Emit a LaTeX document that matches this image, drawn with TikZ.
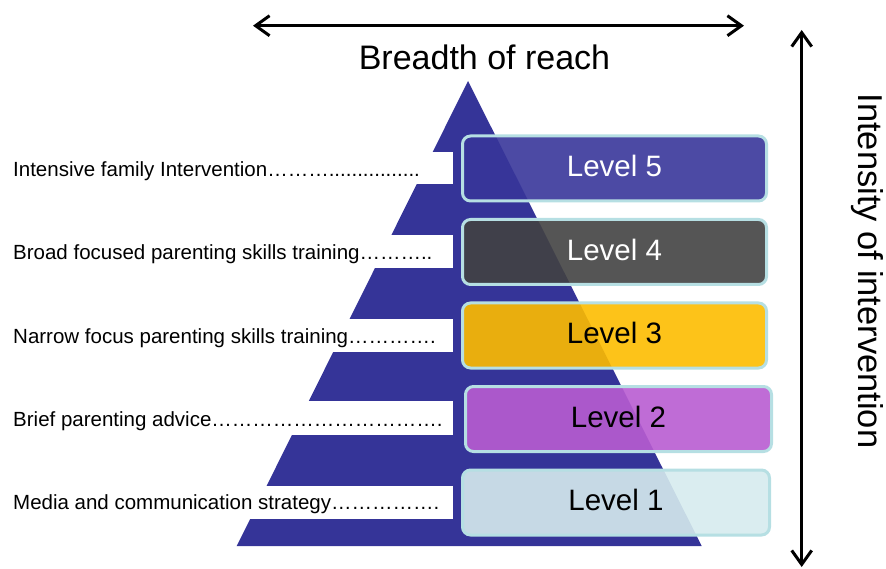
\documentclass[tikz,border=0pt]{standalone}
\usepackage{fontspec}
\setmainfont{Liberation Sans}
\usetikzlibrary{arrows.meta}

\definecolor{pyramidblue}{RGB}{53,52,152}
\definecolor{boxedge}{RGB}{182,223,227}
\definecolor{levelfive}{RGB}{56,54,154}
\definecolor{levelfour}{RGB}{66,66,66}
\definecolor{levelthree}{RGB}{253,188,0}
\definecolor{leveltwo}{RGB}{184,92,209}
\definecolor{levelone}{RGB}{214,235,238}

\tikzset{
  levelbox/.style={draw=boxedge, line width=3pt, rounded corners=8pt, fill opacity=0.9, text opacity=1,
    minimum width=304pt, minimum height=65pt, inner sep=0pt, text height=21.5pt, text depth=5pt,
    font=\fontsize{29.5}{32}\selectfont},
  sidelabel/.style={anchor=base west, inner sep=0pt, font=\fontsize{20.5}{24}\selectfont},
  bigarrow/.style={line width=3pt, {Straight Barb[length=14pt,width=20pt]}-{Straight Barb[length=14pt,width=20pt]}},
}

\begin{document}
\begin{tikzpicture}[x=1pt,y=-1pt]
        \useasboundingbox (0,0) rectangle (886,569);

        %Pyramid
        \fill [pyramidblue] (468,81) -- (701.7,546) -- (236.7,546) -- cycle;

        %Gaps
        \fill [white] (0,152) rectangle (452.5,184.5);
        \fill [white] (0,235) rectangle (452.5,268);
        \fill [white] (0,318.5) rectangle (452.5,352);
        \fill [white] (0,401) rectangle (452.5,434.5);
        \fill [white] (0,486) rectangle (452.5,519);

        %Levels
        \node [levelbox, fill=levelfive, text=white] (lvl5) at (614.5,168.5) {Level 5};
        \node [levelbox, fill=levelfour, text=white] (lvl4) at (614.5,252) {Level 4};
        \node [levelbox, fill=levelthree] (lvl3) at (614.5,335.5) {Level 3};
        \node [levelbox, fill=leveltwo, minimum width=306pt] (lvl2) at (618.5,419) {Level 2};
        \node [levelbox, fill=levelone, minimum width=307pt] (lvl1) at (616,502.5) {Level 1};

        %Approaches
        \node [sidelabel] (app5) at (13,176.7) {Intensive family Intervention………................};
        \node [sidelabel] (app4) at (13,259.5) {Broad focused parenting skills training………..};
        \node [sidelabel] (app3) at (13,343.3) {Narrow focus parenting skills training………….};
        \node [sidelabel] (app2) at (13,426.7) {Brief parenting advice…{}…{}…{}…{}…{}…{}…{}…{}…{}…{}…{}.};
        \node [sidelabel] (app1) at (13,509.3) {Media and communication strategy…………….};

        %Breadth of reach
        \coordinate (breadthleft) at (253,25.7);
        \coordinate (breadthright) at (744,25.7);
        \draw [bigarrow] (breadthleft) -- (breadthright);
        \node [anchor=base, inner sep=0pt, font=\fontsize{34}{38}\selectfont] (breadth) at (484.5,69.6) {Breadth of reach};

        %Intensity of intervention
        \coordinate (intensitytop) at (801.7,30);
        \coordinate (intensitybottom) at (801.7,567);
        \draw [bigarrow] (intensitytop) -- (intensitybottom);
        \node [rotate=-90, anchor=base, inner sep=0pt, font=\fontsize{34.5}{38}\selectfont] (intensity) at (858.5,271) {Intensity of intervention};

\end{tikzpicture}
\end{document}
